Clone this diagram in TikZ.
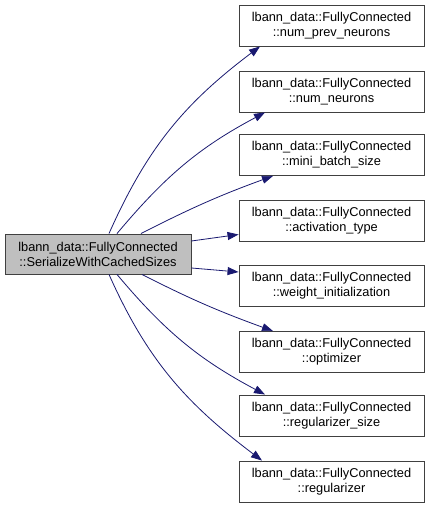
\documentclass[tikz,border=0pt]{standalone}
\usepackage{fontspec}
\setmainfont{Liberation Sans}
\usetikzlibrary{arrows.meta}
\definecolor{edgeblue}{RGB}{25,25,112}
\definecolor{boxborder}{RGB}{64,64,64}
\definecolor{boxgray}{RGB}{191,191,191}
\tikzset{
  fn/.style={draw=boxborder, line width=0.9pt, fill=white, minimum width=185pt, minimum height=41pt,
    inner sep=0pt, align=center, font=\fontsize{12.8}{15}\selectfont},
  mainfn/.style={fn, fill=boxgray, minimum width=186pt, minimum height=40pt},
  call/.style={draw=edgeblue, line width=0.8pt, -{Triangle[length=11pt,width=8pt]}},
}
\begin{document}
\begin{tikzpicture}[x=1pt,y=1pt]
\useasboundingbox (0,0) rectangle (429,508);
\node[mainfn] (L) at (98,254) {lbann\_data::FullyConnected\\::SerializeWithCachedSizes};
\node[fn] (R1) at (331.5,482.5) {lbann\_data::FullyConnected\\::num\_prev\_neurons};
\node[fn] (R2) at (331.5,416.5) {lbann\_data::FullyConnected\\::num\_neurons};
\node[fn] (R3) at (331.5,353) {lbann\_data::FullyConnected\\::mini\_batch\_size};
\node[fn] (R4) at (331.5,287.5) {lbann\_data::FullyConnected\\::activation\_type};
\node[fn] (R5) at (331.5,222) {lbann\_data::FullyConnected\\::weight\_initialization};
\node[fn] (R6) at (331.5,156) {lbann\_data::FullyConnected\\::optimizer};
\node[fn] (R7) at (331.5,92.5) {lbann\_data::FullyConnected\\::regularizer\_size};
\node[fn] (R8) at (331.5,26.5) {lbann\_data::FullyConnected\\::regularizer};
\draw[call] ([xshift=11pt]L.north) to[out=66,in=217] ([xshift=-71.5pt]R1.south);
\draw[call] ([xshift=19pt]L.north) to[out=50,in=208] ([xshift=-66.5pt]R2.south);
\draw[call] ([xshift=43pt]L.north) to[out=27,in=200] ([xshift=-58.5pt]R3.south);
\draw[call] ([yshift=13pt]L.east) -- ([yshift=-14pt]R4.west);
\draw[call] ([yshift=-14pt]L.east) -- ([yshift=14pt]R5.west);
\draw[call] ([xshift=44pt]L.south) to[out=-27,in=160] ([xshift=-58.5pt]R6.north);
\draw[call] ([xshift=19pt]L.south) to[out=-50,in=152] ([xshift=-66.5pt]R7.north);
\draw[call] ([xshift=11pt]L.south) to[out=-66,in=143] ([xshift=-69.5pt]R8.north);
\end{tikzpicture}
\end{document}
